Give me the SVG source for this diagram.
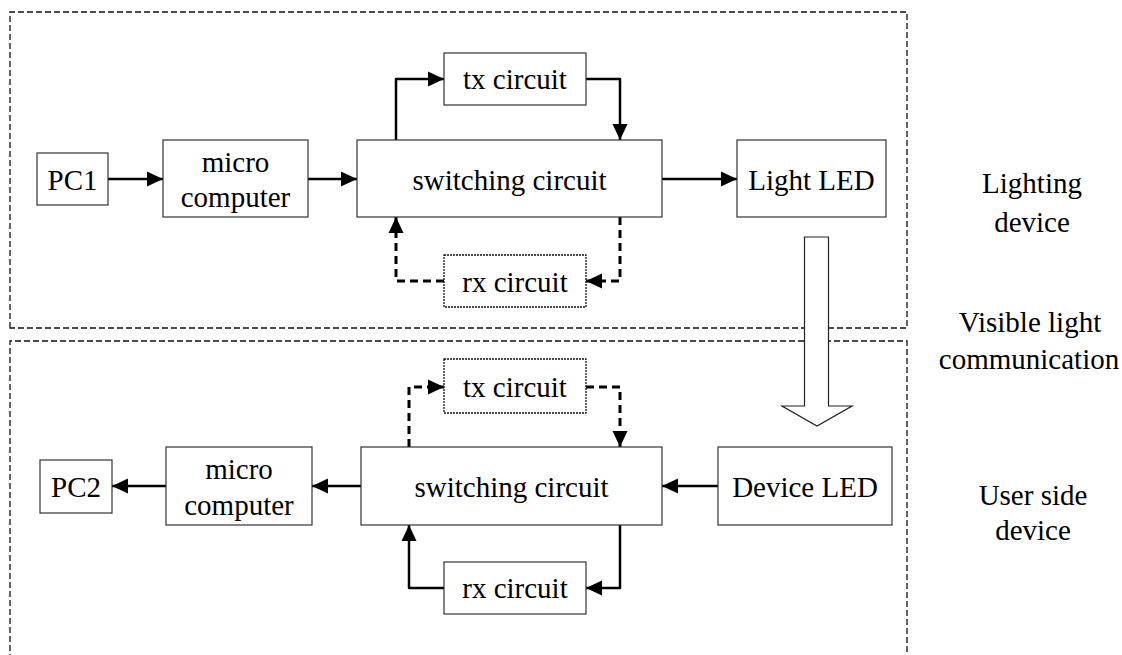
<svg xmlns="http://www.w3.org/2000/svg" width="1122" height="655" viewBox="0 0 1122 655">
<style>
text{font-family:"Liberation Serif","Times New Roman",serif;font-size:29px;fill:#000;text-anchor:middle}
.box{fill:#fff;stroke:#333;stroke-width:1.2}
.dot{fill:#fff;stroke:#111;stroke-width:1.3;stroke-dasharray:2 1}
.frame{fill:none;stroke:#111;stroke-width:1.3;stroke-dasharray:6 3}
.c{fill:none;stroke:#000;stroke-width:2.5;stroke-linejoin:round}
.d{fill:none;stroke:#000;stroke-width:3;stroke-dasharray:8 5;stroke-linejoin:round}
</style>
<defs>
<marker id="ah" viewBox="0 0 16 16" refX="16" refY="8" markerWidth="16" markerHeight="16" markerUnits="userSpaceOnUse" orient="auto">
<path d="M0,0.5 L16,8 L0,15.5 z" fill="#000"/>
</marker>
</defs>
<rect width="1122" height="655" fill="#fff"/>
<g id="frames">
<path class="frame" d="M10,328 L10,12 L907,12 L907,328 Z"/>
<path class="frame" d="M10,660 L10,341 L907,341 L907,660"/>
</g>
<g id="connectors">
<path class="c" d="M108,179 L163,179" marker-end="url(#ah)"/>
<path class="c" d="M308,179 L357,179" marker-end="url(#ah)"/>
<path class="c" d="M662,179 L737,179" marker-end="url(#ah)"/>
<path class="c" d="M396,140 L396,79 L444,79" marker-end="url(#ah)"/>
<path class="c" d="M586,79 L620,79 L620,140" marker-end="url(#ah)"/>
<path class="d" d="M620,217 L620,281 L586,281" marker-end="url(#ah)"/>
<path class="d" d="M444,281 L396,281 L396,217" marker-end="url(#ah)"/>
<path class="c" d="M718,486 L662,486" marker-end="url(#ah)"/>
<path class="c" d="M361,486 L312,486" marker-end="url(#ah)"/>
<path class="c" d="M166,486 L112,486" marker-end="url(#ah)"/>
<path class="d" d="M409,447 L409,387 L444,387" marker-end="url(#ah)"/>
<path class="d" d="M586,387 L620,387 L620,447" marker-end="url(#ah)"/>
<path class="c" d="M620,525 L620,588 L586,588" marker-end="url(#ah)"/>
<path class="c" d="M444,588 L409,588 L409,525" marker-end="url(#ah)"/>
</g>
<g id="vlc-arrow">
<path d="M804.5,237 L828.5,237 L828.5,406 L852,406 L817,426 L782,406 L804.5,406 Z" fill="#fff" stroke="#222" stroke-width="1.2"/>
</g>
<g id="pc1"><rect class="box" x="37" y="153" width="71" height="52"/><text x="72.5" y="190">PC1</text></g>
<g id="micro1"><rect class="box" x="163" y="140" width="145" height="77"/><text x="235.5" y="172">micro</text><text x="235.5" y="207">computer</text></g>
<g id="switch1"><rect class="box" x="357" y="140" width="305" height="77"/><text x="509.5" y="190">switching circuit</text></g>
<g id="tx1"><rect class="box" x="444" y="53" width="142" height="52"/><text x="515" y="89">tx circuit</text></g>
<g id="rx1"><rect class="dot" x="444" y="255" width="142" height="52"/><text x="515" y="292">rx circuit</text></g>
<g id="lightled"><rect class="box" x="737" y="140" width="149" height="77"/><text x="811.5" y="190">Light LED</text></g>
<g id="pc2"><rect class="box" x="40" y="460" width="72" height="53"/><text x="76" y="497">PC2</text></g>
<g id="micro2"><rect class="box" x="166" y="447" width="146" height="78"/><text x="239" y="479">micro</text><text x="239" y="515">computer</text></g>
<g id="switch2"><rect class="box" x="361" y="447" width="301" height="78"/><text x="511.5" y="497">switching circuit</text></g>
<g id="tx2"><rect class="dot" x="444" y="359" width="142" height="54"/><text x="515" y="397">tx circuit</text></g>
<g id="rx2"><rect class="box" x="444" y="562" width="142" height="52"/><text x="515" y="598">rx circuit</text></g>
<g id="deviceled"><rect class="box" x="718" y="447" width="174" height="78"/><text x="805" y="497">Device LED</text></g>
<g id="labels">
<text x="1032" y="193">Lighting</text>
<text x="1032" y="232">device</text>
<text x="1030" y="332">Visible light</text>
<text x="1029" y="369">communication</text>
<text x="1033" y="505">User side</text>
<text x="1033" y="540">device</text>
</g>
</svg>
